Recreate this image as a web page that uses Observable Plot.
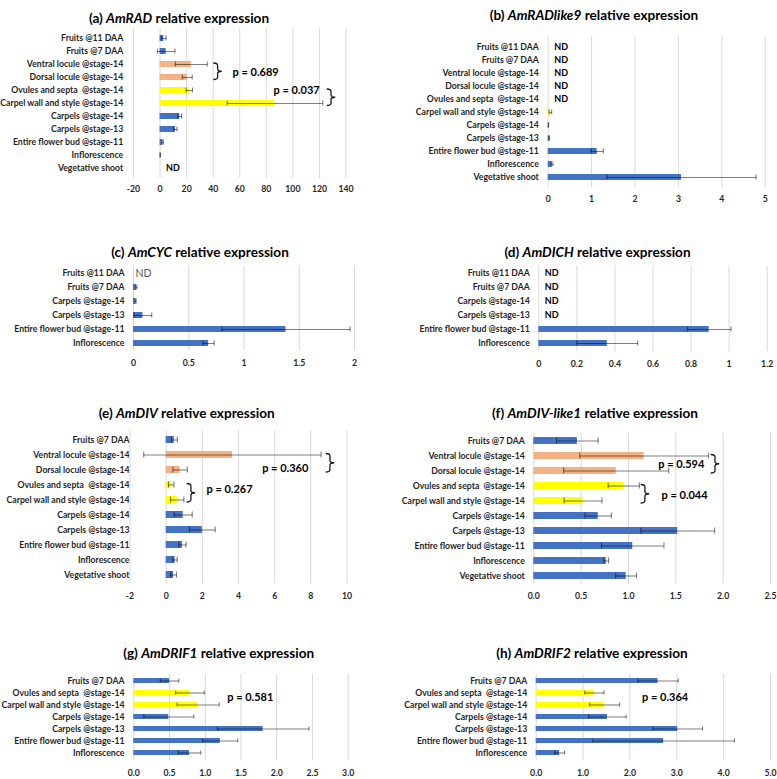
<!DOCTYPE html>
<html><head><meta charset="utf-8">
<script src="https://cdn.jsdelivr.net/npm/d3@7"></script>
<script src="https://cdn.jsdelivr.net/npm/@observablehq/plot@0.6"></script>
<style>
body{margin:0;background:#fff;}
#root{position:relative;width:777px;height:779px;overflow:hidden;font-family:Lato,"Open Sans",sans-serif;}
.panel{position:absolute;}
.title{position:absolute;width:400px;text-align:center;font-weight:bold;font-size:13.6px;line-height:16px;color:#000;white-space:nowrap;}
svg text{white-space:pre;}
</style></head><body><div id="root"></div>
<script>
// ---------- categories ----------
const catsLong = ["Fruits @11 DAA","Fruits @7 DAA","Ventral locule @stage-14","Dorsal locule @stage-14","Ovules and septa  @stage-14","Carpel wall and style @stage-14","Carpels @stage-14","Carpels @stage-13","Entire flower bud @stage-11","Inflorescence","Vegetative shoot"];
const catsShort = ["Fruits @11 DAA","Fruits @7 DAA","Carpels @stage-14","Carpels @stage-13","Entire flower bud @stage-11","Inflorescence"];
const catsDiv = ["Fruits @7 DAA","Ventral locule @stage-14","Dorsal locule @stage-14","Ovules and septa  @stage-14","Carpel wall and style @stage-14","Carpels @stage-14","Carpels @stage-13","Entire flower bud @stage-11","Inflorescence","Vegetative shoot"];
const catsDrif = ["Fruits @7 DAA","Ovules and septa  @stage-14","Carpel wall and style @stage-14","Carpels @stage-14","Carpels @stage-13","Entire flower bud @stage-11","Inflorescence"];
const loculeCats = ["Ventral locule @stage-14","Dorsal locule @stage-14"];
const carpelPartCats = ["Ovules and septa  @stage-14","Carpel wall and style @stage-14"];

// ---------- values (mean) and errors (SD); null = ND ----------
const valsA = [2.8, 4.6, 23.5, 20.5, 22, 86.5, 14.8, 11.5, 2, 0.1, null];
const errsA = [1.8, 6.6, 12, 3.7, 2.4, 36, 1.4, 1.3, 0.5, 0.05, null];
const valsB = [null, null, null, null, null, 0.05, 0.005, 0.02, 1.13, 0.09, 3.07];
const errsB = [null, null, null, null, null, 0.03, 0.003, 0.01, 0.14, 0.02, 1.72];
const valsC = [null, 0.025, 0.02, 0.085, 1.38, 0.68];
const errsC = [null, 0.005, 0.004, 0.08, 0.58, 0.05];
const valsD = [null, null, null, null, 0.895, 0.36];
const errsD = [null, null, null, null, 0.115, 0.16];
const valsE = [0.45, 3.665, 0.77, 0.28, 0.61, 0.94, 2.0, 0.9, 0.49, 0.41];
const errsE = [0.17, 4.905, 0.4, 0.15, 0.37, 0.5, 0.71, 0.2, 0.12, 0.16];
const valsF = [0.46, 1.165, 0.87, 0.95, 0.52, 0.68, 1.52, 1.045, 0.765, 0.975];
const errsF = [0.22, 0.68, 0.555, 0.165, 0.2, 0.14, 0.39, 0.33, 0.025, 0.11];
const valsG = [0.5, 0.785, 0.9, 0.49, 1.81, 1.21, 0.78];
const errsG = [0.13, 0.2, 0.295, 0.35, 0.64, 0.245, 0.157];
const valsH = [2.6, 1.24, 1.46, 1.52, 3.02, 2.72, 0.5];
const errsH = [0.43, 0.205, 0.32, 0.4, 0.53, 1.51, 0.105];

// ---------- tick values ----------
const ticksA = [-20, 0, 20, 40, 60, 80, 100, 120, 140];
const ticksB = [0, 1, 2, 3, 4, 5];
const ticksC = [0, 0.5, 1, 1.5, 2];
const ticksD = [0, 0.2, 0.4, 0.6, 0.8, 1, 1.2];
const ticksE = [-2, 0, 2, 4, 6, 8, 10];
const ticksF = [0, 0.5, 1, 1.5, 2, 2.5];
const ticksG = [0, 0.5, 1, 1.5, 2, 2.5, 3];
const ticksH = [0, 1, 2, 3, 4, 5];

// ---------- p-values ----------
const pA = ["p = 0.689", "p = 0.037"];
const pE = ["p = 0.360", "p = 0.267"];
const pF = ["p = 0.594", "p = 0.044"];
const pG = ["p = 0.581"];
const pH = ["p = 0.364"];

const genes = ["AmRAD","AmRADlike9","AmCYC","AmDICH","AmDIV","AmDIV-like1","AmDRIF1","AmDRIF2"];

function tissueOf(c) {
  return loculeCats.includes(c) ? "locule" : carpelPartCats.includes(c) ? "carpel part" : "whole";
}
const f1 = d3.format(".1f");
const V = "Ventral locule @stage-14", Dl = "Dorsal locule @stage-14", O = "Ovules and septa  @stage-14", CW = "Carpel wall and style @stage-14";

const panels = [
  {tag:"a", gene:genes[0], cats:catsLong, vals:valsA, errs:errsA, ticks:ticksA, fmt:String,
   left:0, top:0, width:390, height:200, ml:133, mr:44.5, mt:28.2, mb:22.2, xPad:8, yPad:10.3, ndDx:6,
   tx:179, ty:18,
   notes:[{t:pA[0], x:54.6, y:Dl, dy:-4.8},{t:pA[1], x:85.5, y:O, dy:0}],
   brackets:[{x:40.5, from:V, to:Dl},{x:125.9, from:O, to:CW}]},
  {tag:"b", gene:genes[1], cats:catsLong, vals:valsB, errs:errsB, ticks:ticksB, fmt:String,
   left:390, top:0, width:387, height:215, ml:157.7, mr:12.3, mt:36.2, mb:28.1, xPad:8.9, yPad:9.4, ndDx:6,
   tx:594, ty:15, notes:[], brackets:[]},
  {tag:"c", gene:genes[2], cats:catsShort, vals:valsC, errs:errsC, ticks:ticksC, fmt:String,
   left:0, top:200, width:390, height:180, ml:133, mr:36, mt:65.65, mb:29.75, xPad:9.2, yPad:9, ndDx:2,
   ndColor:"#595959", ndWeight:"normal", ndSize:10.5,
   tx:200, ty:252, notes:[], brackets:[]},
  {tag:"d", gene:genes[3], cats:catsShort, vals:valsD, errs:errsD, ticks:ticksD, fmt:String,
   left:390, top:200, width:387, height:180, ml:148.3, mr:10.3, mt:65.57, mb:28.87, xPad:8.7, yPad:9, ndDx:6,
   tx:597.5, ty:252, notes:[], brackets:[]},
  {tag:"e", gene:genes[4], cats:catsDiv, vals:valsE, errs:errsE, ticks:ticksE, fmt:String,
   left:0, top:380, width:390, height:230, ml:129.5, mr:43.5, mt:50, mb:26.3, xPad:9.1, yPad:0.5, ndDx:6,
   tx:186.7, ty:413,
   notes:[{t:pE[0], x:5.31, y:Dl, dy:-1.7},{t:pE[1], x:2.23, y:O, dy:4.5}],
   brackets:[{x:8.85, from:V, to:Dl},{x:1.16, from:O, to:CW}]},
  {tag:"f", gene:genes[5], cats:catsDiv, vals:valsF, errs:errsF, ticks:ticksF, fmt:f1,
   left:390, top:380, width:387, height:230, ml:143.3, mr:7, mt:52.4, mb:26.4, xPad:9.2, yPad:9, ndDx:6,
   tx:595, ty:413,
   notes:[{t:pF[0], x:1.314, y:Dl, dy:-7},{t:pF[1], x:1.349, y:CW, dy:-5.4}],
   brackets:[{x:1.874, from:V, to:Dl},{x:1.134, from:O, to:CW}]},
  {tag:"g", gene:genes[6], cats:catsDrif, vals:valsG, errs:errsG, ticks:ticksG, fmt:f1,
   left:0, top:590, width:390, height:189, ml:133.3, mr:42.3, mt:83.8, mb:18.5, xPad:9, yPad:9.3, ndDx:6,
   tx:218.7, ty:653,
   notes:[{t:pG[0], x:1.307, y:O, dy:4.3}], brackets:[]},
  {tag:"h", gene:genes[7], cats:catsDrif, vals:valsH, errs:errsH, ticks:ticksH, fmt:f1,
   left:390, top:590, width:387, height:189, ml:145.7, mr:7, mt:83.8, mb:18.5, xPad:9, yPad:9, ndDx:6,
   tx:592, ty:653,
   notes:[{t:pH[0], x:2.26, y:O, dy:4.3}], brackets:[]}
];

function bracketMark(list) {
  return (index, scales) => {
    const ns = "http://www.w3.org/2000/svg";
    const g = document.createElementNS(ns, "g");
    const half = scales.y.bandwidth ? scales.y.bandwidth() / 2 : 0;
    for (const b of list) {
      const x0 = scales.x(b.x);
      const ya = scales.y(b.from) + half - 1;
      const yb = scales.y(b.to) + half + 2.5;
      const ym = (ya + yb) / 2, w = 8.5, r = 2.5, xm = x0 + w / 2;
      const path = document.createElementNS(ns, "path");
      path.setAttribute("d",
        `M${x0},${ya} Q${xm},${ya} ${xm},${ya + r} L${xm},${ym - r} Q${xm},${ym} ${x0 + w},${ym}` +
        ` Q${xm},${ym} ${xm},${ym + r} L${xm},${yb - r} Q${xm},${yb} ${x0},${yb}`);
      path.setAttribute("fill", "none");
      path.setAttribute("stroke", "#1a1a1a");
      path.setAttribute("stroke-width", "1.3");
      g.appendChild(path);
    }
    return g;
  };
}

const root = document.getElementById("root");
for (const p of panels) {
  const rows = p.cats.map((c, i) => ({cat: c, v: p.vals[i], e: p.errs[i], tissue: tissueOf(c)}));
  const measured = rows.filter(d => d.v != null);
  const withErr = measured.filter(d => d.e != null && d.e > 0);
  const nd = rows.filter(d => d.v == null);
  const errStyle = {stroke: "#000", strokeOpacity: 0.5, strokeWidth: 1.1};
  const chart = Plot.plot({
    width: p.width, height: p.height,
    marginLeft: p.ml, marginRight: p.mr, marginTop: p.mt, marginBottom: p.mb,
    style: {fontFamily: "Lato, sans-serif", fontSize: "8.7px", fontWeight: "bold", color: "#1f1f1f", background: "transparent", overflow: "visible"},
    x: {domain: [p.ticks[0], p.ticks[p.ticks.length - 1]], ticks: p.ticks, tickFormat: p.fmt, tickSize: 0, tickPadding: p.xPad, label: null},
    y: {domain: p.cats, paddingInner: 0.55, paddingOuter: 0.275, tickSize: 0, tickPadding: p.yPad, label: null},
    color: {domain: ["whole", "locule", "carpel part"], range: ["#4472C4", "#F4B183", "#FFFF00"]},
    marks: [
      Plot.ruleX(p.ticks, {stroke: "#D9D9D9", strokeWidth: 1}),
      Plot.barX(measured, {x: "v", y: "cat", fill: "tissue"}),
      Plot.link(withErr, {x1: d => d.v - d.e, x2: d => d.v + d.e, y1: "cat", y2: "cat", ...errStyle}),
      Plot.tickX(withErr, {x: d => d.v - d.e, y: "cat", insetTop: 0.5, insetBottom: 0.5, ...errStyle}),
      Plot.tickX(withErr, {x: d => d.v + d.e, y: "cat", insetTop: 0.5, insetBottom: 0.5, ...errStyle}),
      Plot.text(nd, {x: () => 0, y: "cat", text: () => "ND", textAnchor: "start", dx: p.ndDx,
        fill: p.ndColor || "#000", fontWeight: p.ndWeight || "bold", fontSize: p.ndSize || 9}),
      ...p.notes.map(n => Plot.text([n], {x: "x", y: "y", text: "t", dy: n.dy, textAnchor: "start",
        fontSize: 11, fontWeight: "bold", fill: "#000"})),
      bracketMark(p.brackets)
    ]
  });
  const div = document.createElement("div");
  div.className = "panel";
  div.style.left = p.left + "px";
  div.style.top = p.top + "px";
  div.appendChild(chart);
  root.appendChild(div);

  const t = document.createElement("div");
  t.className = "title";
  t.style.left = (p.tx - 200) + "px";
  t.style.top = (p.ty - 8) + "px";
  t.innerHTML = `(${p.tag}) <i>${p.gene}</i> relative expression`;
  root.appendChild(t);
}
</script></body></html>
